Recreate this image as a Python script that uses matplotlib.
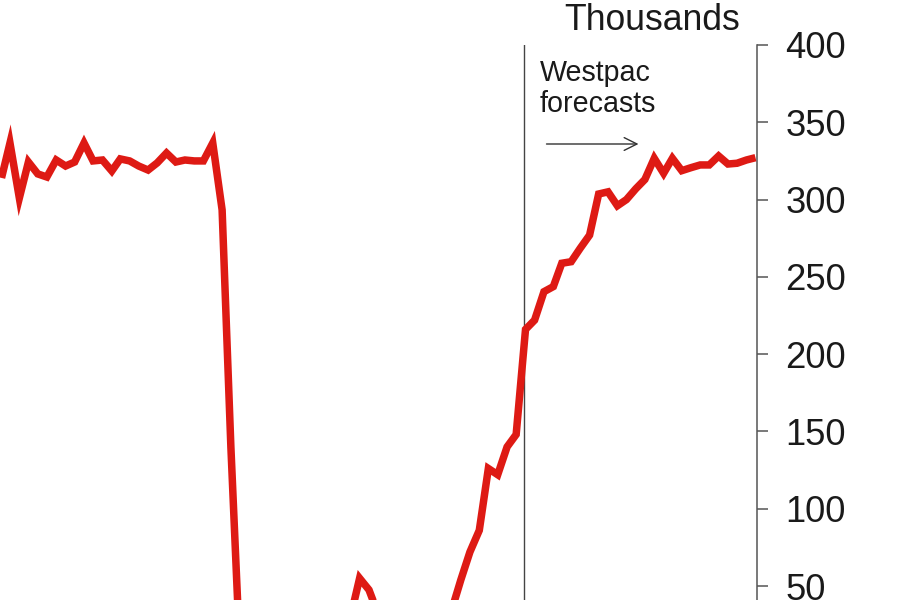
import matplotlib
matplotlib.use("Agg")
import matplotlib.pyplot as plt
import pandas as pd

# ---- data (thousands) ----
months = pd.date_range("2018-02-01", "2024-12-01", freq="MS")
visitors = [
    314.0, 336.6, 301.0, 324.3, 316.6, 314.6, 325.6, 321.7, 324.3, 336.6,
    325.0, 325.6, 318.5, 326.3, 325.0, 321.7, 319.1, 323.7, 330.1, 324.3,
    325.6, 325.0, 325.0,                      # Feb 2018 - Dec 2019
    336.6, 293.3, 140.0, 1.0, 1.0, 1.5, 2.0, 2.0, 2.5, 3.0, 3.5, 4.0,   # 2020
    5.0, 4.0, 6.0, 30.0, 55.0, 47.5, 32.0, 8.0, 2.0, 2.0, 2.5, 3.0,     # 2021
    3.5, 4.5, 34.0, 54.0, 72.0, 86.0, 126.0, 122.0, 140.0, 148.0,       # 2022
    216.0, 222.0,
    240.4, 243.7, 258.8, 259.8, 268.5, 277.0, 303.6, 305.0, 296.0,      # 2023
    300.0, 307.0, 313.0,
    326.7, 317.0, 326.7, 318.7, 320.6, 322.4, 322.4, 328.2, 323.0,      # 2024
    323.5, 325.6, 327.1,
]
y_ticks = [0, 50, 100, 150, 200, 250, 300, 350, 400]
forecast_start = pd.Timestamp("2022-10-27")
x_start = pd.Timestamp("2018-01-27")
x_end = pd.Timestamp("2024-12-06")

RED = "#DE1A14"
DARK = "#1a1a1a"
FONT = "Liberation Sans"

plt.rcParams["font.family"] = [FONT, "DejaVu Sans"]

W, H = 900, 600
fig = plt.figure(figsize=(W / 100, H / 100), dpi=100)

# axes placement in pixels (chart is a crop of a larger figure)
ax_left_px, ax_right_px, ax_top_px = 0, 757, 45
px_per_unit = 541 / 350
ax_h_px = 400 * px_per_unit
ax = fig.add_axes([ax_left_px / W, (H - ax_top_px - ax_h_px) / H,
                   (ax_right_px - ax_left_px) / W, ax_h_px / H])

ax.plot(months, visitors, color=RED, lw=5.4, solid_joinstyle="miter",
        solid_capstyle="butt", zorder=3)
ax.axvline(forecast_start, color="#444444", lw=1.0, zorder=2)

ax.set_xlim(x_start, x_end)
ax.set_ylim(0, 400)

for s in ["left", "top", "bottom"]:
    ax.spines[s].set_visible(False)
ax.spines["right"].set_color("#555555")
ax.spines["right"].set_linewidth(1.1)

ax.yaxis.tick_right()
ax.set_yticks(y_ticks)
ax.tick_params(axis="y", direction="out", length=8, width=1.1, color="#555555",
               pad=12.5, labelsize=26.2, labelcolor=DARK)
ax.set_xticks([])

fig.text(652 / W, 1 - 29.5 / H, "Thousands", ha="center", va="baseline",
         fontsize=25.6, color=DARK)
fig.text(540 / W, 1 - 111.5 / H, "Westpac\nforecasts", ha="left", va="baseline",
         fontsize=20.6, color=DARK, linespacing=1.12)
ax.annotate("", xy=(638.5, H - 144), xytext=(546.5, H - 144),
            xycoords="figure pixels", textcoords="figure pixels",
            arrowprops=dict(arrowstyle="->,head_length=0.4,head_width=0.2",
                            lw=1.0, color="#333333", mutation_scale=23,
                            shrinkA=0, shrinkB=0))

fig.savefig("out.png", dpi=100)
